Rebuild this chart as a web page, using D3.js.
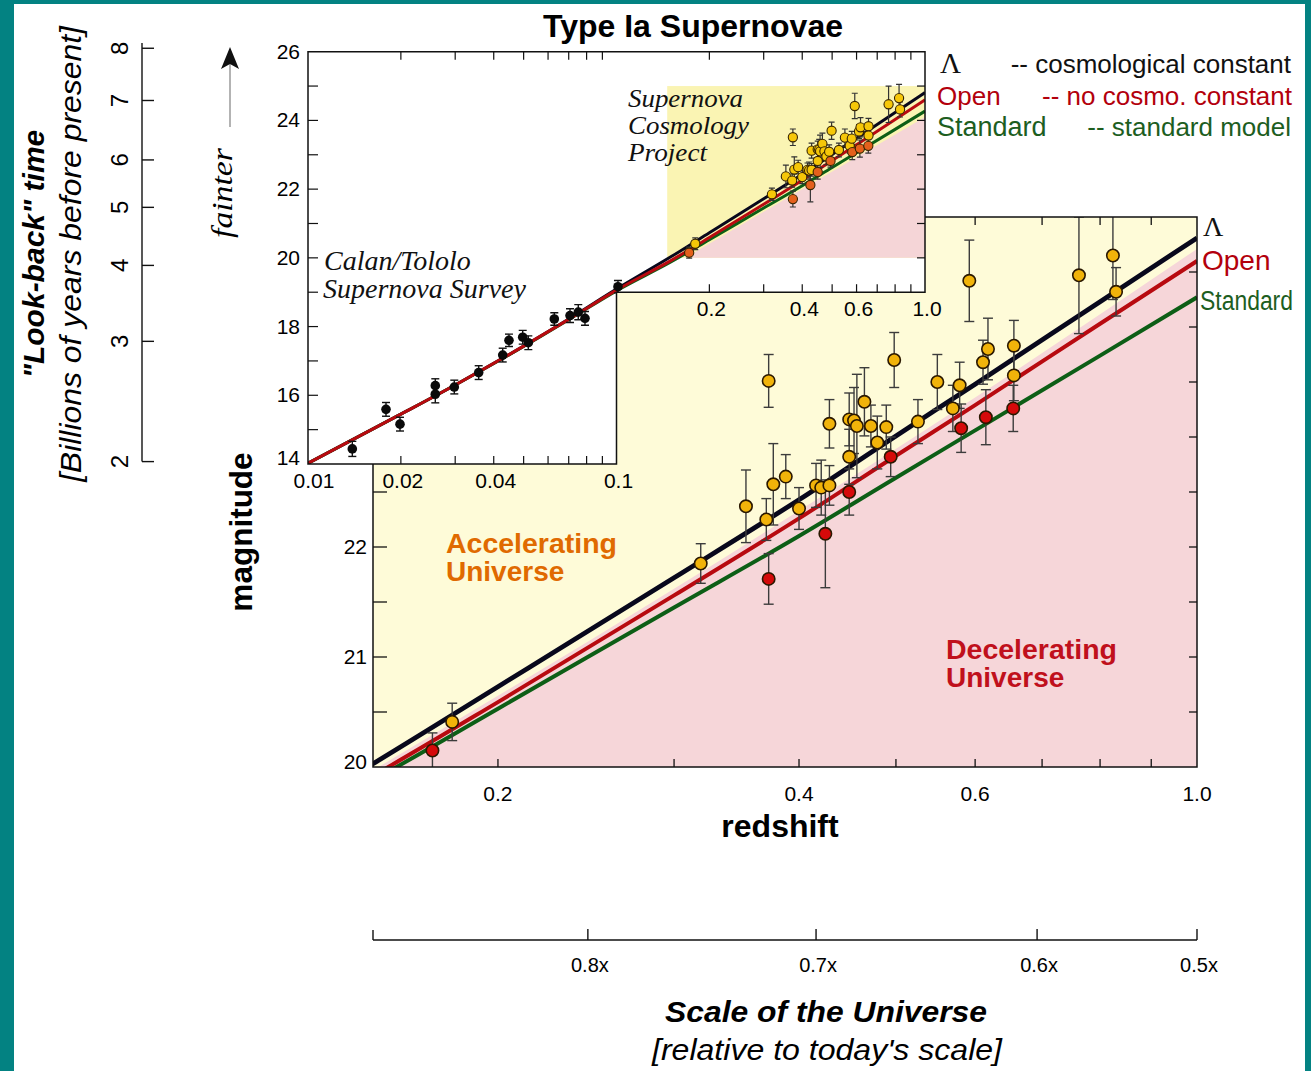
<!DOCTYPE html>
<html><head><meta charset="utf-8">
<script src="https://cdn.jsdelivr.net/npm/d3@7"></script>
<style>body{margin:0;background:#fff}svg{display:block}</style>
</head><body>
<svg id="c" width="1311" height="1071"></svg>
<script>
// ================= DATA =================
// model curves (redshift -> magnitude)
const modelZ      = [0.01, 0.02, 0.03, 0.05, 0.07, 0.1, 0.15, 0.2, 0.3, 0.4, 0.5, 0.6, 0.8, 1.0];
const lambdaMag   = [14.02, 15.45, 16.30, 17.43, 18.22, 19.09, 20.03, 20.73, 21.72, 22.43, 23.01, 23.48, 24.23, 24.81];
const openMag     = [14.02, 15.45, 16.30, 17.43, 18.21, 19.06, 19.92, 20.59, 21.56, 22.26, 22.83, 23.29, 24.03, 24.60];
const standardMag = [14.02, 15.45, 16.30, 17.42, 18.20, 19.04, 19.88, 20.53, 21.45, 22.10, 22.63, 23.06, 23.74, 24.27];
// accelerating / decelerating boundary
const boundaryZ   = [0.15, 0.3, 0.6, 1.0];
const boundaryMag = [19.97, 21.62, 23.36, 24.71];
const insetBoundaryZ   = [0.167, 1.0];
const insetBoundaryMag = [20.0, 24.1];
// main-plot window shown in the inset
const windowZ   = [0.146, 1.0];
const windowMag = [20, 25];

// Supernova Cosmology Project
const scpZ   = [0.180,0.172,0.319,0.373,0.354,0.371,0.377,0.373,0.388,0.400,0.416,0.421,0.429,0.425,0.429,0.449,0.454,0.457,0.449,0.449,0.465,0.472,0.479,0.489,0.494,0.498,0.526,0.550,0.570,0.579,0.581,0.592,0.611,0.618,0.615,0.656,0.656,0.655,0.762,0.824,0.830];
const scpMag = [20.41,20.15,21.85,23.51,22.37,22.25,22.57,21.71,22.64,22.35,22.56,22.54,22.56,22.12,23.12,23.16,23.15,23.10,22.82,22.50,23.32,23.10,22.95,23.09,22.82,23.70,23.14,23.50,23.26,23.47,23.08,24.42,23.68,23.80,23.18,23.83,23.56,23.26,24.47,24.65,24.32];
const scpErr = [0.17,0.16,0.18,0.24,0.33,0.19,0.37,0.23,0.20,0.19,0.20,0.25,0.18,0.49,0.22,0.24,0.30,0.47,0.25,0.21,0.31,0.19,0.24,0.20,0.18,0.25,0.20,0.25,0.21,0.21,0.22,0.37,0.20,0.28,0.25,0.23,0.23,0.21,0.53,0.40,0.22];
const scpRed = [0,1,0,0,0,0,0,1,0,0,0,0,0,1,0,0,0,0,0,1,0,0,0,0,1,0,0,0,0,0,1,0,0,0,1,0,0,1,0,0,0];

// Calan/Tololo Supernova Survey
const ctZ   = [0.01392,0.01790,0.01987,0.02586,0.02586,0.02980,0.03575,0.04277,0.04482,0.04966,0.05178,0.06286,0.07068,0.07518,0.07904,0.1011];
const ctMag = [14.44,15.59,15.16,16.28,16.03,16.24,16.66,17.17,17.60,17.69,17.53,18.22,18.32,18.42,18.24,19.16];
const ctErr = [0.22,0.20,0.20,0.20,0.25,0.20,0.20,0.20,0.18,0.20,0.20,0.18,0.20,0.22,0.20,0.18];

// tick labels
const mainXTicks   = [0.2,0.3,0.4,0.5,0.6,0.7,0.8,0.9];
const mainXLabels  = [0.2,0.4,0.6,1.0];
const mainYTicks   = [20.5,21,21.5,22,22.5,23,23.5,24,24.5];
const mainYLabels  = [20,21,22];
const insetYLabels = [14,16,18,20,22,24,26];
const insetYTicks  = [15,16,17,18,19,20,21,22,23,24,25];
const insetXLowTicks  = [0.02,0.03,0.04,0.05,0.06,0.07,0.08,0.09];
const insetXHighTicks = [0.2,0.3,0.4,0.5,0.6,0.7,0.8,0.9];
const insetXLowLabels  = [0.01,0.02,0.04,0.1];
const insetXHighLabels = [0.2,0.4,0.6,1.0];
const lookbackTicks = [2,3,4,5,6,7,8];
const lookbackMag   = [14.07,17.57,19.78,21.47,22.85,24.58,26.10];
const scaleTicks = ["0.8x","0.7x","0.6x","0.5x"];
const scaleTickZ = [0.246,0.416,0.692,1.0];

// ================= DRAW =================
const W=1311,H=1071;
const SANS='"Liberation Sans", Arial, Helvetica, sans-serif';
const SERIF='"Liberation Serif", "Times New Roman", serif';
const svg=d3.select('#c');

const xM=d3.scaleLog().domain([0.15,1.0]).range([373,1197]);
const yM=d3.scaleLinear().domain([20,25]).range([767,217]);
const xI=d3.scaleLog().domain([0.01,1.0]).range([308,925]);
const yI=d3.scaleLinear().domain([14,26]).range([464,51.7]);

svg.append('rect').attr('width',W).attr('height',H).attr('fill','#038282');
svg.append('rect').attr('x',14).attr('y',4).attr('width',1291).attr('height',H-4).attr('fill','#fff');

const defs=svg.append('defs');
defs.append('clipPath').attr('id','cm').append('rect')
  .attr('x',xM(0.15)).attr('y',yM(25)).attr('width',xM(1)-xM(0.15)).attr('height',yM(20)-yM(25));
const insetPoly=[[0.01,26],[1,26],[1,19],[0.1,19],[0.1,14],[0.01,14]];
const insetPath='M'+insetPoly.map(p=>xI(p[0])+','+yI(p[1])).join('L')+'Z';
defs.append('clipPath').attr('id','ci').append('path').attr('d',insetPath);

const modelSets=[
  {mag:lambdaMag,   color:'#08081c', wm:4.8, wi:3},
  {mag:standardMag, color:'#0d5e16', wm:4,   wi:3},
  {mag:openMag,     color:'#b80a10', wm:4,   wi:3}
];

// ---------- main plot ----------
const gM=svg.append('g');
const gMc=gM.append('g').attr('clip-path','url(#cm)');
gMc.append('rect').attr('x',xM(0.15)).attr('y',yM(25)).attr('width',xM(1)-xM(0.15)).attr('height',yM(20)-yM(25)).attr('fill','#fefbd8');
const bnd=boundaryZ.map((z,i)=>[z,boundaryMag[i]]);
gMc.append('path').datum(bnd)
  .attr('d',d3.area().x(d=>xM(d[0])).y0(yM(19)).y1(d=>yM(d[1])).curve(d3.curveMonotoneX))
  .attr('fill','#f6d6d9');
modelSets.forEach(s=>{
  const pts=modelZ.map((z,i)=>[z,s.mag[i]]);
  gMc.append('path').datum(pts)
    .attr('d',d3.line().x(d=>xM(d[0])).y(d=>yM(d[1])).curve(d3.curveMonotoneX))
    .attr('fill','none').attr('stroke',s.color).attr('stroke-width',s.wm);
});
const scp=scpZ.map((z,i)=>({z,m:scpMag[i],e:scpErr[i],red:scpRed[i]}));
const eb=gMc.append('g').attr('stroke','#3c3c3c').attr('stroke-width',1.4);
scp.forEach(d=>{
  const x=xM(d.z),y1=yM(d.m+d.e),y2=yM(d.m-d.e);
  eb.append('line').attr('x1',x).attr('x2',x).attr('y1',y1).attr('y2',y2);
  eb.append('line').attr('x1',x-5).attr('x2',x+5).attr('y1',y1).attr('y2',y1);
  eb.append('line').attr('x1',x-5).attr('x2',x+5).attr('y1',y2).attr('y2',y2);
});
gMc.append('g').selectAll('circle').data(scp.filter(d=>!d.red).concat(scp.filter(d=>d.red))).join('circle')
  .attr('cx',d=>xM(d.z)).attr('cy',d=>yM(d.m)).attr('r',6.2)
  .attr('fill',d=>d.red?'#d50a0a':'#f1b30a').attr('stroke','#2a1800').attr('stroke-width',1.6);

// frame & ticks
gM.append('rect').attr('x',xM(0.15)).attr('y',yM(25)).attr('width',xM(1)-xM(0.15)).attr('height',yM(20)-yM(25))
  .attr('fill','none').attr('stroke','#111').attr('stroke-width',1.5);
const tk=gM.append('g').attr('stroke','#111').attr('stroke-width',1.3);
mainYTicks.forEach(m=>{
  tk.append('line').attr('x1',xM(0.15)).attr('x2',xM(0.15)+14).attr('y1',yM(m)).attr('y2',yM(m));
  tk.append('line').attr('x1',xM(1)).attr('x2',xM(1)-8).attr('y1',yM(m)).attr('y2',yM(m));
});
mainXTicks.forEach(z=>{
  tk.append('line').attr('x1',xM(z)).attr('x2',xM(z)).attr('y1',yM(20)).attr('y2',yM(20)-8);
  tk.append('line').attr('x1',xM(z)).attr('x2',xM(z)).attr('y1',yM(25)).attr('y2',yM(25)+8);
});
gM.append('g').selectAll('text').data(mainXLabels).join('text')
  .attr('x',d=>xM(d)).attr('y',801).attr('text-anchor','middle')
  .attr('font-family',SANS).attr('font-size',21).text(d=>d.toFixed(1));
gM.append('g').selectAll('text').data(mainYLabels).join('text')
  .attr('x',367).attr('y',d=>d===20?yM(d)+2:yM(d)+7).attr('text-anchor','end')
  .attr('font-family',SANS).attr('font-size',21).text(d=>d);

// ---------- inset ----------
const gI=svg.append('g');
gI.append('path').attr('d',insetPath).attr('fill','#fff');
const gIc=gI.append('g').attr('clip-path','url(#ci)');
gIc.append('rect').attr('x',xI(windowZ[0])).attr('y',yI(windowMag[1]))
  .attr('width',xI(windowZ[1])-xI(windowZ[0])).attr('height',yI(windowMag[0])-yI(windowMag[1])).attr('fill','#faf4b3');
const ibnd=insetBoundaryZ.map((z,i)=>[z,insetBoundaryMag[i]]);
gIc.append('path').datum(ibnd)
  .attr('d',d3.area().x(d=>xI(d[0])).y0(yI(windowMag[0])).y1(d=>yI(d[1])))
  .attr('fill','#f5d5d7');
modelSets.forEach(s=>{
  const pts=modelZ.map((z,i)=>[z,s.mag[i]]);
  gIc.append('path').datum(pts)
    .attr('d',d3.line().x(d=>xI(d[0])).y(d=>yI(d[1])).curve(d3.curveMonotoneX))
    .attr('fill','none').attr('stroke',s.color).attr('stroke-width',s.wi);
});
const ieb=gIc.append('g').attr('stroke','#333').attr('stroke-width',1.2);
scp.forEach(d=>{
  const x=xI(d.z),y1=yI(d.m+d.e),y2=yI(d.m-d.e);
  ieb.append('line').attr('x1',x).attr('x2',x).attr('y1',y1).attr('y2',y2);
  ieb.append('line').attr('x1',x-3).attr('x2',x+3).attr('y1',y1).attr('y2',y1);
  ieb.append('line').attr('x1',x-3).attr('x2',x+3).attr('y1',y2).attr('y2',y2);
});
gIc.append('g').selectAll('circle').data(scp.filter(d=>!d.red).concat(scp.filter(d=>d.red))).join('circle')
  .attr('cx',d=>xI(d.z)).attr('cy',d=>yI(d.m)).attr('r',4.6)
  .attr('fill',d=>d.red?'#e4601c':'#f6c708').attr('stroke','#3a2600').attr('stroke-width',1.1);
const ct=ctZ.map((z,i)=>({z,m:ctMag[i],e:ctErr[i]}));
const ceb=gIc.append('g').attr('stroke','#111').attr('stroke-width',1.4);
ct.forEach(d=>{
  const x=xI(d.z),y1=yI(d.m+d.e),y2=yI(d.m-d.e);
  ceb.append('line').attr('x1',x).attr('x2',x).attr('y1',y1).attr('y2',y2);
  ceb.append('line').attr('x1',x-4).attr('x2',x+4).attr('y1',y1).attr('y2',y1);
  ceb.append('line').attr('x1',x-4).attr('x2',x+4).attr('y1',y2).attr('y2',y2);
});
gIc.append('g').selectAll('circle').data(ct).join('circle')
  .attr('cx',d=>xI(d.z)).attr('cy',d=>yI(d.m)).attr('r',4.8).attr('fill','#0a0a0a');

gI.append('path').attr('d',insetPath).attr('fill','none').attr('stroke','#111').attr('stroke-width',1.5);
const itk=gI.append('g').attr('stroke','#111').attr('stroke-width',1.2);
insetYTicks.forEach(m=>{
  itk.append('line').attr('x1',xI(0.01)).attr('x2',xI(0.01)+10).attr('y1',yI(m)).attr('y2',yI(m));
  if(m>=20) itk.append('line').attr('x1',xI(1)).attr('x2',xI(1)-8).attr('y1',yI(m)).attr('y2',yI(m));
});
insetXLowTicks.forEach(z=>{
  itk.append('line').attr('x1',xI(z)).attr('x2',xI(z)).attr('y1',yI(14)).attr('y2',yI(14)-8);
  itk.append('line').attr('x1',xI(z)).attr('x2',xI(z)).attr('y1',yI(26)).attr('y2',yI(26)+8);
});
insetXHighTicks.forEach(z=>{
  itk.append('line').attr('x1',xI(z)).attr('x2',xI(z)).attr('y1',yI(19)).attr('y2',yI(19)-8);
  itk.append('line').attr('x1',xI(z)).attr('x2',xI(z)).attr('y1',yI(26)).attr('y2',yI(26)+8);
});
gI.append('g').selectAll('text').data(insetYLabels).join('text')
  .attr('x',300).attr('y',d=>d===14?yI(d)+1:yI(d)+7).attr('text-anchor','end')
  .attr('font-family',SANS).attr('font-size',21).text(d=>d);
gI.append('g').selectAll('text').data(insetXLowLabels).join('text')
  .attr('x',d=>xI(d)+(d===0.01?6:2)).attr('y',488).attr('text-anchor','middle')
  .attr('font-family',SANS).attr('font-size',21).text(d=>d===0.1?'0.1':d.toFixed(2));
gI.append('g').selectAll('text').data(insetXHighLabels).join('text')
  .attr('x',d=>xI(d)+2).attr('y',316).attr('text-anchor','middle')
  .attr('font-family',SANS).attr('font-size',21).text(d=>d.toFixed(1));

// inset annotations
const it=gI.append('g').attr('font-family',SERIF).attr('font-style','italic').attr('font-size',28).attr('fill','#111');
it.append('text').attr('x',324).attr('y',270).text('Calan/Tololo');
it.append('text').attr('x',323).attr('y',298).text('Supernova Survey');
const it2=gI.append('g').attr('font-family',SERIF).attr('font-style','italic').attr('font-size',26).attr('fill','#111');
it2.append('text').attr('x',628).attr('y',107).attr('textLength',115).attr('lengthAdjust','spacingAndGlyphs').text('Supernova');
it2.append('text').attr('x',628).attr('y',134).attr('textLength',121).attr('lengthAdjust','spacingAndGlyphs').text('Cosmology');
it2.append('text').attr('x',628).attr('y',161).attr('textLength',79).attr('lengthAdjust','spacingAndGlyphs').text('Project');

// ---------- texts ----------
svg.append('text').attr('x',693).attr('y',37).attr('text-anchor','middle')
  .attr('font-family',SANS).attr('font-weight','bold').attr('font-size',32).text('Type Ia Supernovae');

// legend
const lg=svg.append('g').attr('font-family',SANS).attr('font-size',26);
lg.append('text').attr('x',940).attr('y',73).attr('font-family',SERIF).attr('font-size',29).attr('fill','#111').text('Λ');
lg.append('text').attr('x',1291).attr('y',73).attr('text-anchor','end').attr('fill','#111').text('-- cosmological constant');
lg.append('text').attr('x',937).attr('y',105).attr('fill','#b3000c').text('Open');
lg.append('text').attr('x',1292).attr('y',105).attr('text-anchor','end').attr('fill','#b3000c').text('-- no cosmo. constant');
lg.append('text').attr('x',937).attr('y',136).attr('fill','#1d5e1f').attr('font-size',27).text('Standard');
lg.append('text').attr('x',1291).attr('y',136).attr('text-anchor','end').attr('fill','#1d5e1f').text('-- standard model');

// right-side line labels
const rl=svg.append('g').attr('font-family',SANS);
rl.append('text').attr('x',1203).attr('y',236).attr('font-family',SERIF).attr('font-size',28).attr('fill','#111').text('Λ');
rl.append('text').attr('x',1202).attr('y',270).attr('font-size',28).attr('fill','#b3000c').text('Open');
rl.append('text').attr('x',1200).attr('y',310).attr('font-size',27).attr('fill','#1d5e1f')
  .attr('textLength',93).attr('lengthAdjust','spacingAndGlyphs').text('Standard');

// region labels
const rg=svg.append('g').attr('font-family',SANS).attr('font-weight','bold').attr('font-size',28);
rg.append('text').attr('x',446).attr('y',553).attr('fill','#e06a00').attr('textLength',171).attr('lengthAdjust','spacingAndGlyphs').text('Accelerating');
rg.append('text').attr('x',446).attr('y',581).attr('fill','#e06a00').text('Universe');
rg.append('text').attr('x',946).attr('y',659).attr('fill','#c0101c').attr('textLength',171).attr('lengthAdjust','spacingAndGlyphs').text('Decelerating');
rg.append('text').attr('x',946).attr('y',687).attr('fill','#c0101c').text('Universe');

// axis titles
svg.append('text').attr('x',780).attr('y',837).attr('text-anchor','middle')
  .attr('font-family',SANS).attr('font-weight','bold').attr('font-size',32).text('redshift');
svg.append('text').attr('transform','translate(252,532) rotate(-90)').attr('text-anchor','middle')
  .attr('font-family',SANS).attr('font-weight','bold').attr('font-size',31.5).text('magnitude');

// fainter arrow
svg.append('text').attr('transform','translate(232,193) rotate(-90)').attr('text-anchor','middle')
  .attr('font-family',SERIF).attr('font-style','italic').attr('font-size',29)
  .attr('textLength',90).attr('lengthAdjust','spacingAndGlyphs').text('fainter');
svg.append('line').attr('x1',230).attr('x2',230).attr('y1',127).attr('y2',62).attr('stroke','#9a9a9a').attr('stroke-width',1.5);
svg.append('path').attr('d','M230,47 L239,69 L230,64 L221,69 Z').attr('fill','#111');

// look-back axis
const lb=svg.append('g');
lb.append('line').attr('x1',142).attr('x2',142).attr('y1',yI(26.25)).attr('y2',yI(lookbackMag[0])).attr('stroke','#111').attr('stroke-width',1.4);
lookbackTicks.forEach((t,i)=>{
  const y=yI(lookbackMag[i]);
  lb.append('line').attr('x1',142).attr('x2',154).attr('y1',y).attr('y2',y).attr('stroke','#111').attr('stroke-width',1.4);
  lb.append('text').attr('transform',`translate(128,${y}) rotate(-90)`).attr('text-anchor','middle')
    .attr('font-family',SANS).attr('font-size',24).text(t);
});
svg.append('text').attr('transform','translate(44,254) rotate(-90)').attr('text-anchor','middle')
  .attr('font-family',SANS).attr('font-weight','bold').attr('font-style','italic').attr('font-size',30).text('"Look-back" time');
svg.append('text').attr('transform','translate(81,254) rotate(-90)').attr('text-anchor','middle')
  .attr('font-family',SANS).attr('font-style','italic').attr('font-size',30)
  .attr('textLength',456).attr('lengthAdjust','spacingAndGlyphs').text('[Billions of years before present]');

// scale-of-universe axis
const sa=svg.append('g').attr('stroke','#111').attr('stroke-width',1.4);
sa.append('line').attr('x1',xM(0.15)).attr('x2',xM(1)).attr('y1',940).attr('y2',940);
sa.append('line').attr('x1',xM(0.15)).attr('x2',xM(0.15)).attr('y1',940).attr('y2',930);
scaleTickZ.forEach(z=>sa.append('line').attr('x1',xM(z)).attr('x2',xM(z)).attr('y1',940).attr('y2',929));
svg.append('g').selectAll('text').data(scaleTicks).join('text')
  .attr('x',(d,i)=>xM(scaleTickZ[i])+2).attr('y',972).attr('text-anchor','middle')
  .attr('font-family',SANS).attr('font-size',20).text(d=>d);
svg.append('text').attr('x',826).attr('y',1022).attr('text-anchor','middle')
  .attr('font-family',SANS).attr('font-weight','bold').attr('font-style','italic').attr('font-size',30)
  .attr('textLength',322).attr('lengthAdjust','spacingAndGlyphs').text('Scale of the Universe');
svg.append('text').attr('x',827).attr('y',1060).attr('text-anchor','middle')
  .attr('font-family',SANS).attr('font-style','italic').attr('font-size',29)
  .attr('textLength',350).attr('lengthAdjust','spacingAndGlyphs').text("[relative to today's scale]");
</script>
</body></html>
